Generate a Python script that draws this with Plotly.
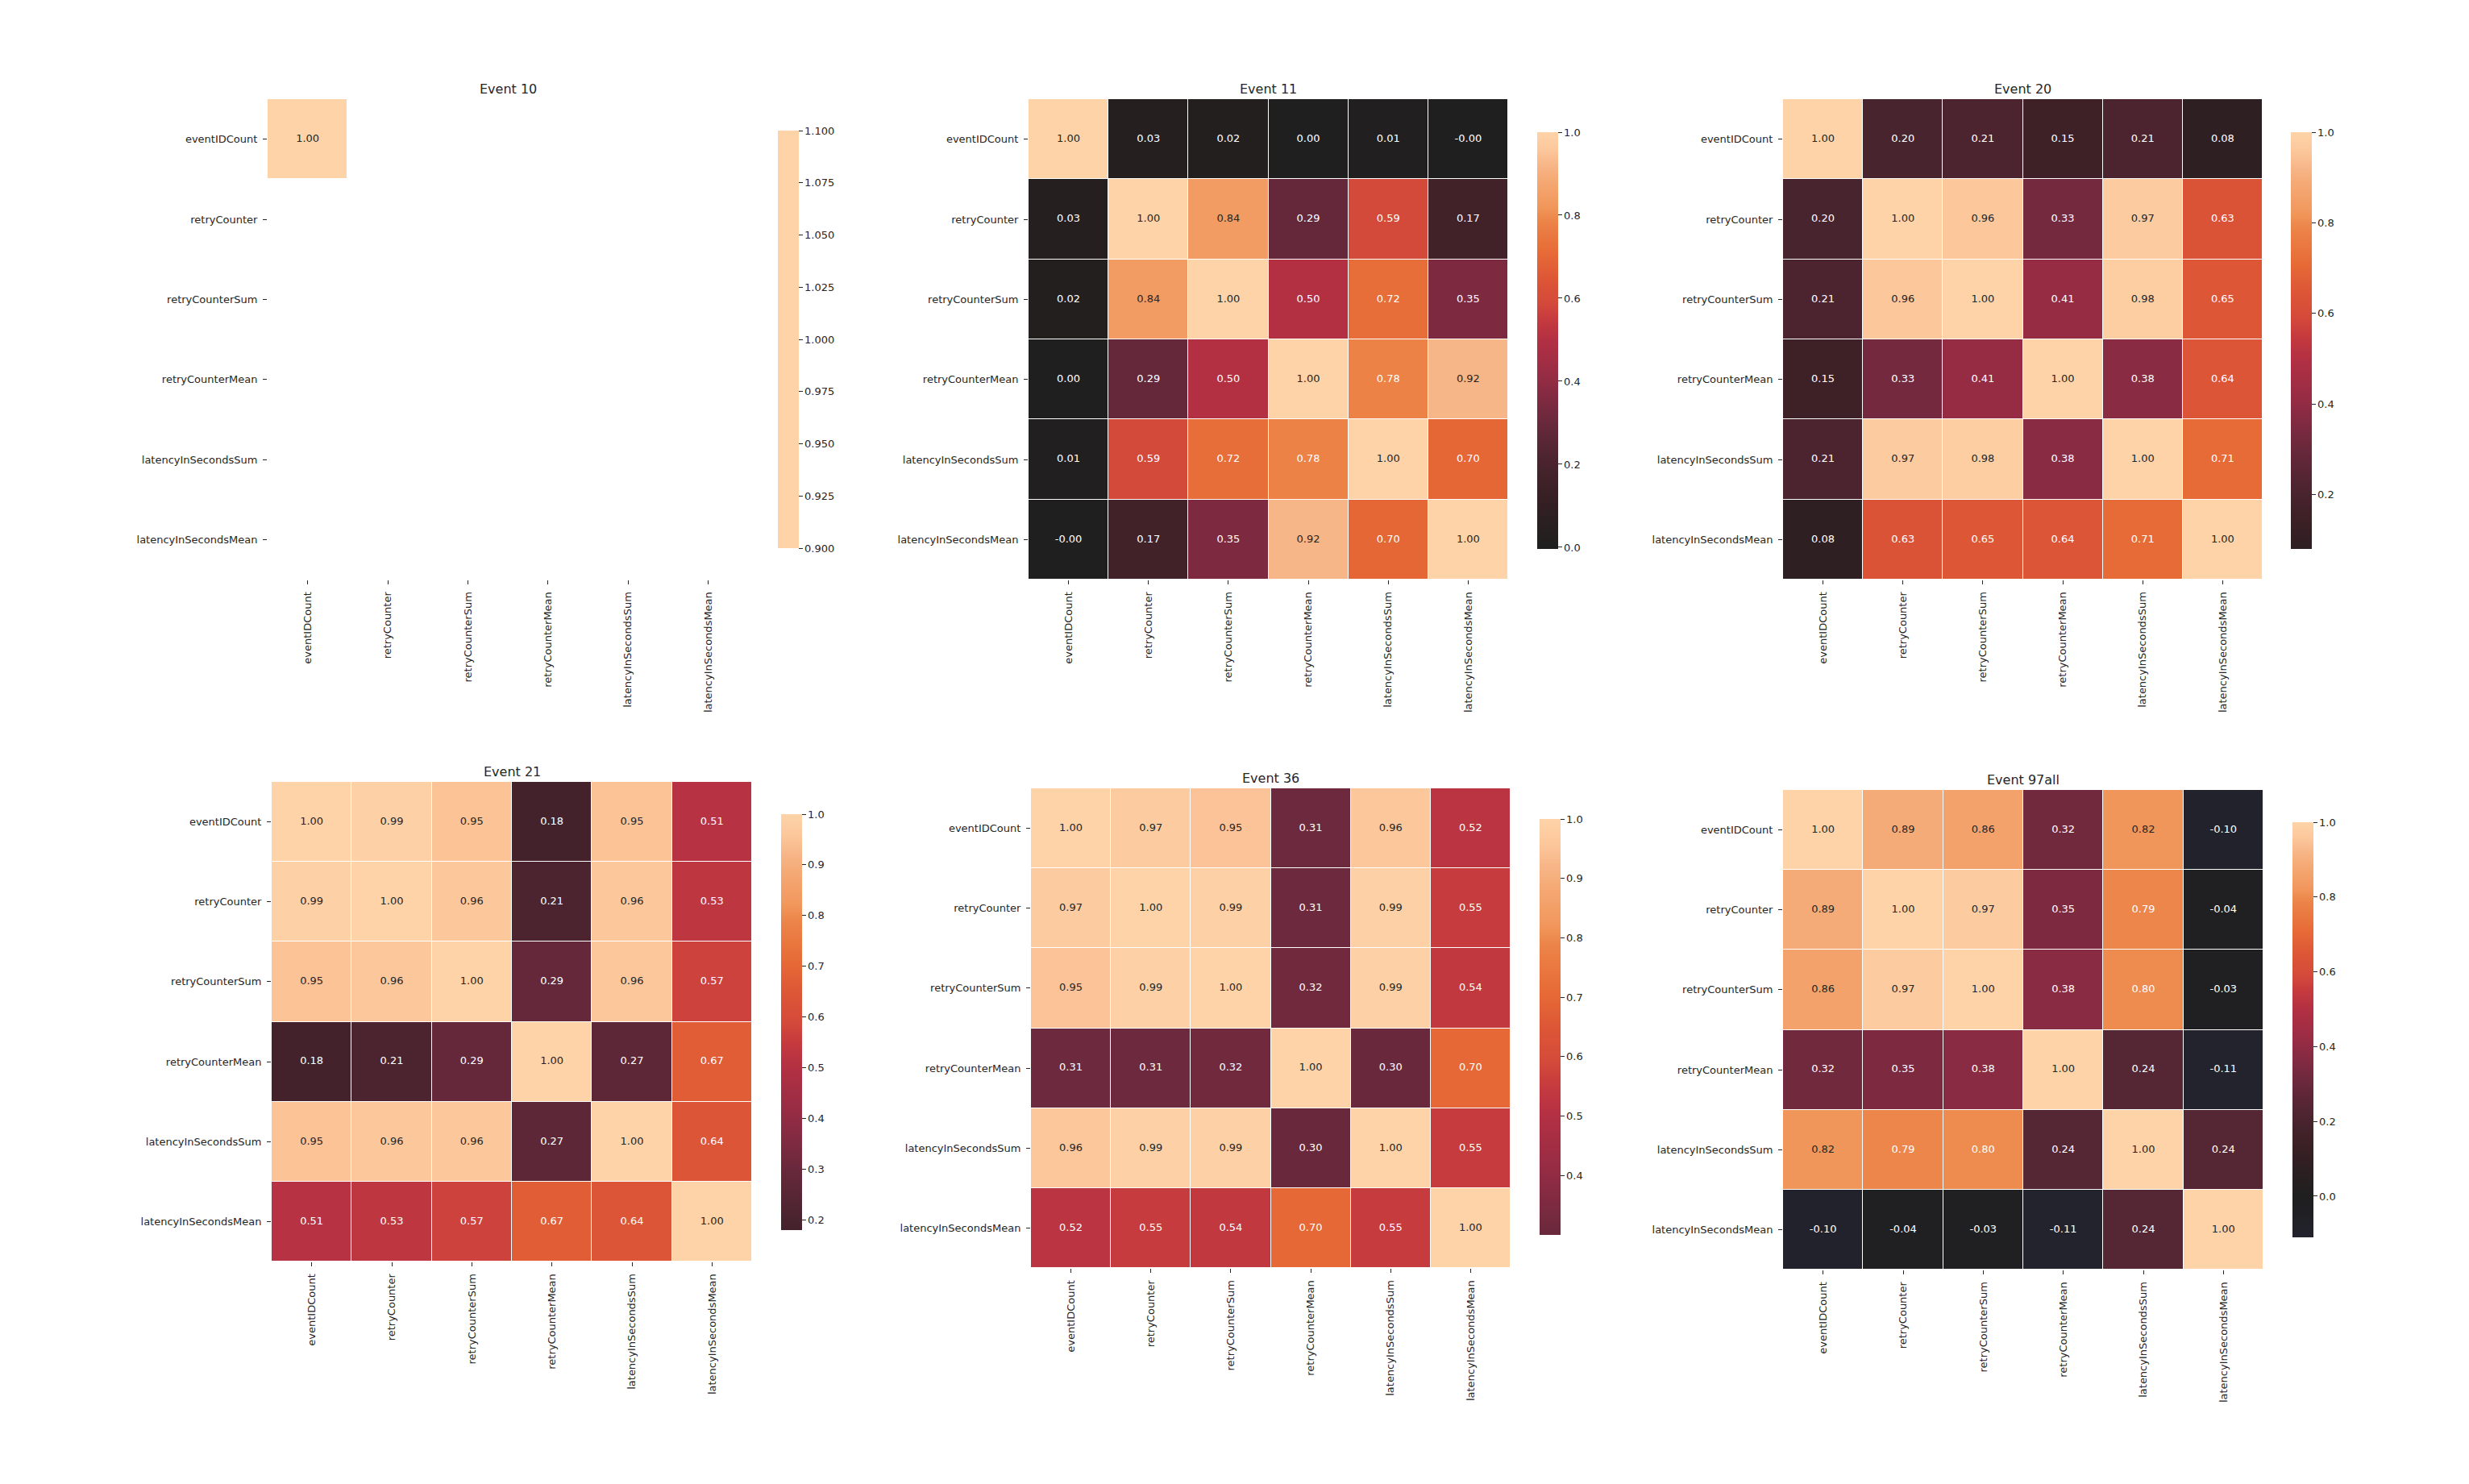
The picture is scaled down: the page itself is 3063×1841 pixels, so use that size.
import plotly.graph_objects as go

W, H = 3063, 1841

labels = ["eventIDCount", "retryCounter", "retryCounterSum",
          "retryCounterMean", "latencyInSecondsSum", "latencyInSecondsMean"]

titles = ["Event 10", "Event 11", "Event 20", "Event 21", "Event 36", "Event 97all"]

N = None
event10 = [
    [1.00, N, N, N, N, N],
    [N, N, N, N, N, N],
    [N, N, N, N, N, N],
    [N, N, N, N, N, N],
    [N, N, N, N, N, N],
    [N, N, N, N, N, N],
]
event11 = [
    [1.00, 0.03, 0.02, 0.00, 0.01, -0.004],
    [0.03, 1.00, 0.84, 0.29, 0.59, 0.17],
    [0.02, 0.84, 1.00, 0.50, 0.72, 0.35],
    [0.00, 0.29, 0.50, 1.00, 0.78, 0.92],
    [0.01, 0.59, 0.72, 0.78, 1.00, 0.70],
    [-0.004, 0.17, 0.35, 0.92, 0.70, 1.00],
]
event20 = [
    [1.00, 0.20, 0.21, 0.15, 0.21, 0.08],
    [0.20, 1.00, 0.96, 0.33, 0.97, 0.63],
    [0.21, 0.96, 1.00, 0.41, 0.98, 0.65],
    [0.15, 0.33, 0.41, 1.00, 0.38, 0.64],
    [0.21, 0.97, 0.98, 0.38, 1.00, 0.71],
    [0.08, 0.63, 0.65, 0.64, 0.71, 1.00],
]
event21 = [
    [1.00, 0.99, 0.95, 0.18, 0.95, 0.51],
    [0.99, 1.00, 0.96, 0.21, 0.96, 0.53],
    [0.95, 0.96, 1.00, 0.29, 0.96, 0.57],
    [0.18, 0.21, 0.29, 1.00, 0.27, 0.67],
    [0.95, 0.96, 0.96, 0.27, 1.00, 0.64],
    [0.51, 0.53, 0.57, 0.67, 0.64, 1.00],
]
event36 = [
    [1.00, 0.97, 0.95, 0.31, 0.96, 0.52],
    [0.97, 1.00, 0.99, 0.31, 0.99, 0.55],
    [0.95, 0.99, 1.00, 0.32, 0.99, 0.54],
    [0.31, 0.31, 0.32, 1.00, 0.30, 0.70],
    [0.96, 0.99, 0.99, 0.30, 1.00, 0.55],
    [0.52, 0.55, 0.54, 0.70, 0.55, 1.00],
]
event97all = [
    [1.00, 0.89, 0.86, 0.32, 0.82, -0.10],
    [0.89, 1.00, 0.97, 0.35, 0.79, -0.04],
    [0.86, 0.97, 1.00, 0.38, 0.80, -0.03],
    [0.32, 0.35, 0.38, 1.00, 0.24, -0.11],
    [0.82, 0.79, 0.80, 0.24, 1.00, 0.24],
    [-0.10, -0.04, -0.03, -0.11, 0.24, 1.00],
]

cbar_ticks10 = [0.900, 0.925, 0.950, 0.975, 1.000, 1.025, 1.050, 1.075, 1.100]
cbar_ticks11 = [0.0, 0.2, 0.4, 0.6, 0.8, 1.0]
cbar_ticks20 = [0.2, 0.4, 0.6, 0.8, 1.0]
cbar_ticks21 = [0.2, 0.3, 0.4, 0.5, 0.6, 0.7, 0.8, 0.9, 1.0]
cbar_ticks36 = [0.4, 0.5, 0.6, 0.7, 0.8, 0.9, 1.0]
cbar_ticks97 = [0.0, 0.2, 0.4, 0.6, 0.8, 1.0]

matrices = [event10, event11, event20, event21, event36, event97all]
cbar_ticks = [cbar_ticks10, cbar_ticks11, cbar_ticks20, cbar_ticks21, cbar_ticks36, cbar_ticks97]
cbar_fmt = [".3f", ".1f", ".1f", ".1f", ".1f", ".1f"]

# diverging colormap centred at 0 (icefire-like), as (value, colour)
CMAP = [
    (-1.00, "#bde7db"), (-0.75, "#58a6d4"), (-0.50, "#3d5fa8"), (-0.30, "#2c3660"),
    (-0.11, "#23232e"), (-0.05, "#202024"), (0.00, "#1f1f1f"), (0.08, "#2e1f22"),
    (0.15, "#3d2126"), (0.21, "#4b2430"), (0.29, "#65283a"), (0.35, "#7d2a41"),
    (0.41, "#952c44"), (0.50, "#b33043"), (0.55, "#c63a3e"), (0.59, "#d44a3a"),
    (0.65, "#dd5736"), (0.71, "#e76b36"), (0.79, "#ec8549"), (0.82, "#f1975c"),
    (0.84, "#f29c63"), (0.89, "#f5ab77"), (0.92, "#f7b587"), (0.96, "#fcc89c"),
    (1.00, "#fed3a8"),
]


def hex2rgb(h):
    h = h.lstrip("#")
    return [int(h[i:i + 2], 16) for i in (0, 2, 4)]


def cmap(v):
    v = max(-1.0, min(1.0, v))
    for (a, ca), (b, cb) in zip(CMAP[:-1], CMAP[1:]):
        if a <= v <= b:
            t = 0 if b == a else (v - a) / (b - a)
            ra, rb = hex2rgb(ca), hex2rgb(cb)
            return [ra[i] + (rb[i] - ra[i]) * t for i in range(3)]
    return hex2rgb(CMAP[-1][1])


def lum(rgb):
    def lin(c):
        c = c / 255
        return c / 12.92 if c <= 0.03928 else ((c + 0.055) / 1.055) ** 2.4
    r, g, b = (lin(c) for c in rgb)
    return 0.2126 * r + 0.7152 * g + 0.0722 * b


def rgbs(c):
    return "rgb(%d,%d,%d)" % tuple(round(x) for x in c)


# layout in pixels: heatmap box (x0, x1, y0, y1) and colorbar box
heat_px = [
    (332, 928, 123, 719), (1276, 1871, 123, 719), (2212, 2807, 123, 719),
    (337, 933, 970, 1565), (1279, 1874, 978, 1573), (2212, 2808, 980, 1575),
]
cbar_px = [
    (965, 162, 680), (1907, 164, 681), (2842, 164, 681),
    (969, 1010, 1526), (1910, 1016, 1532), (2844, 1020, 1535),
]

FONT = "DejaVu Sans"
TXT = "#262626"
FS = 13

fig = go.Figure()
annotations = []
layout_axes = {}

for k, (mat, title, ticks, fmt) in enumerate(zip(matrices, titles, cbar_ticks, cbar_fmt)):
    vals = [v for row in mat for v in row if v is not None]
    vmin, vmax = min(vals), max(vals)
    if vmin == vmax:
        zmin, zmax = vmin - 0.1, vmax + 0.1
    else:
        zmin, zmax = vmin, vmax
    nsteps = 60
    cs = []
    for i in range(nsteps + 1):
        f = i / nsteps
        v = zmin + (zmax - zmin) * f
        if vmin == vmax:
            v = vmin
        cs.append([f, rgbs(cmap(v))])

    xa = "x" if k == 0 else "x%d" % (k + 1)
    ya = "y" if k == 0 else "y%d" % (k + 1)
    x0, x1, y0, y1 = heat_px[k]
    cx, cy0, cy1 = cbar_px[k]

    fig.add_trace(go.Heatmap(
        z=mat, x=labels, y=labels, xaxis=xa, yaxis=ya,
        zmin=zmin, zmax=zmax, colorscale=cs, xgap=1, ygap=1,
        hoverongaps=False,
        colorbar=dict(
            x=cx / W, xanchor="left", y=1 - cy1 / H, yanchor="bottom",
            len=cy1 - cy0, lenmode="pixels", thickness=26, thicknessmode="pixels",
            xpad=0, ypad=0, outlinewidth=0,
            tickvals=ticks, ticktext=[format(t, fmt) for t in ticks],
            ticks="outside", ticklen=5, tickwidth=1, tickcolor=TXT,
            tickfont=dict(family=FONT, size=FS, color=TXT),
        ),
    ))

    tx, ty, tt, tc = [], [], [], []
    for i, row in enumerate(mat):
        for j, v in enumerate(row):
            if v is None:
                continue
            tx.append(labels[j])
            ty.append(labels[i])
            tt.append("%.2f" % v)
            tc.append(TXT if lum(cmap(v)) > 0.408 else "#ffffff")
    fig.add_trace(go.Scatter(
        x=tx, y=ty, xaxis=xa, yaxis=ya, mode="text", text=tt,
        textfont=dict(family=FONT, size=FS, color=tc), hoverinfo="skip",
        showlegend=False,
    ))

    axcommon = dict(showgrid=False, zeroline=False, showline=False,
                    ticks="outside", ticklen=5, tickwidth=1, tickcolor=TXT,
                    ticklabelstandoff=4,
                    tickfont=dict(family=FONT, size=FS, color=TXT),
                    type="category", fixedrange=True)
    xkey = "xaxis" if k == 0 else "xaxis%d" % (k + 1)
    ykey = "yaxis" if k == 0 else "yaxis%d" % (k + 1)
    layout_axes[xkey] = dict(axcommon, domain=[x0 / W, x1 / W], anchor=ya,
                             range=[-0.5, 5.5], tickangle=-90,
                             categoryorder="array", categoryarray=labels)
    layout_axes[ykey] = dict(axcommon, domain=[1 - y1 / H, 1 - y0 / H], anchor=xa,
                             range=[5.5, -0.5],
                             categoryorder="array", categoryarray=labels)

    annotations.append(dict(
        text=title, xref="paper", yref="paper",
        x=(x0 + x1) / 2 / W, y=1 - (y0 - 1) / H,
        xanchor="center", yanchor="bottom", showarrow=False,
        font=dict(family=FONT, size=16, color=TXT),
    ))

fig.update_layout(
    width=W, height=H, margin=dict(l=0, r=0, t=0, b=0),
    paper_bgcolor="white", plot_bgcolor="white",
    showlegend=False, annotations=annotations,
    font=dict(family=FONT, color=TXT),
    **layout_axes,
)

fig.write_html("out.html")
